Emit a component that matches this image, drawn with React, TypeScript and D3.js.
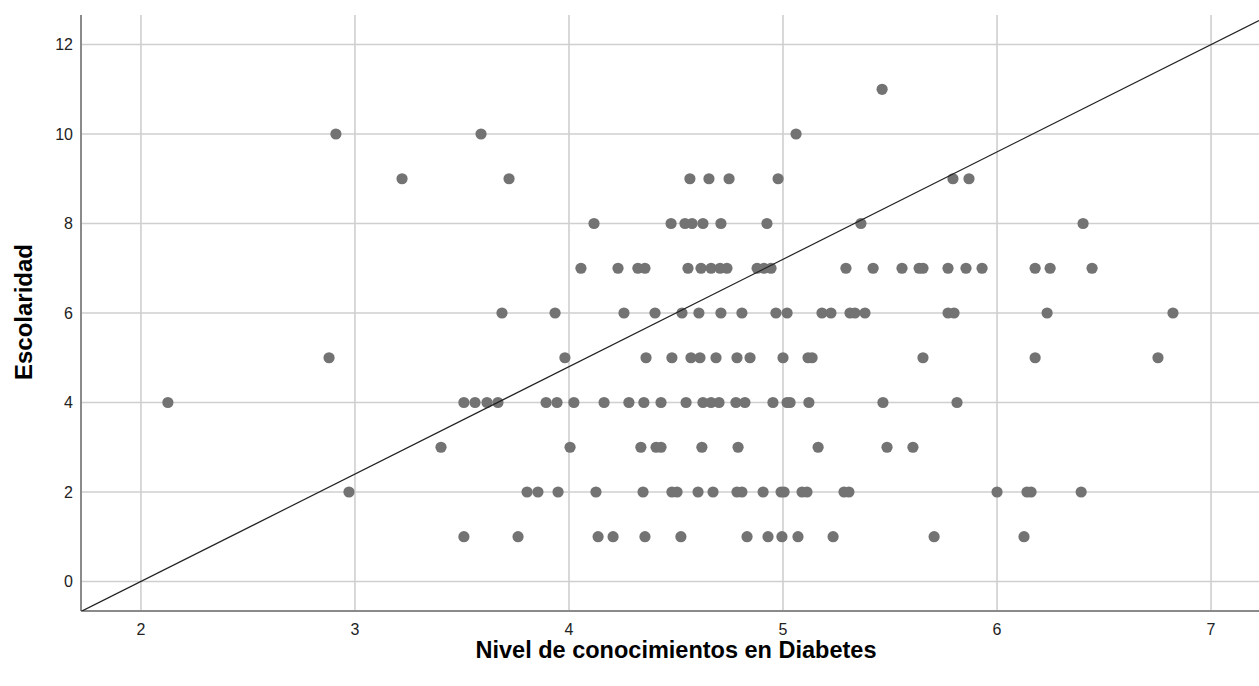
import React from "react";
import * as d3 from "d3";

// Escolaridad levels and the "Nivel de conocimientos" values of the points on each level
const level1 = [3.509, 3.762, 4.136, 4.206, 4.355, 4.523, 4.832, 4.93, 4.995, 5.07, 5.234, 5.706, 6.126];
const level2 = [2.972, 3.804, 3.855, 3.949, 4.126, 4.346, 4.481, 4.505, 4.603, 4.673, 4.785, 4.808, 4.907, 4.991, 5.005, 5.089, 5.112, 5.285, 5.308, 6.0, 6.14, 6.159, 6.393];
const level3 = [3.402, 4.005, 4.336, 4.407, 4.43, 4.621, 4.79, 5.164, 5.486, 5.607];
const level4 = [2.126, 3.509, 3.561, 3.617, 3.668, 3.893, 3.944, 4.023, 4.164, 4.28, 4.35, 4.43, 4.547, 4.626, 4.664, 4.701, 4.78, 4.822, 4.953, 5.019, 5.033, 5.121, 5.467, 5.813];
const level5 = [2.879, 3.981, 4.36, 4.481, 4.57, 4.612, 4.687, 4.785, 4.846, 5.0, 5.117, 5.136, 5.654, 6.178, 6.752];
const level6 = [3.687, 3.935, 4.257, 4.402, 4.528, 4.607, 4.71, 4.808, 4.967, 5.019, 5.182, 5.224, 5.313, 5.336, 5.383, 5.771, 5.799, 6.234, 6.822];
const level7 = [4.056, 4.229, 4.322, 4.355, 4.556, 4.617, 4.664, 4.706, 4.738, 4.879, 4.911, 4.944, 5.294, 5.421, 5.556, 5.636, 5.654, 5.771, 5.855, 5.93, 6.178, 6.248, 6.444];
const level8 = [4.117, 4.477, 4.542, 4.575, 4.626, 4.71, 4.925, 5.364, 6.402];
const level9 = [3.22, 3.72, 4.565, 4.654, 4.748, 4.977, 5.794, 5.869];
const level10 = [2.911, 3.589, 5.061];
const level11 = [5.463];

const levels = [1, 2, 3, 4, 5, 6, 7, 8, 9, 10, 11];
const levelValues = [level1, level2, level3, level4, level5, level6, level7, level8, level9, level10, level11];

const xTicks = [2, 3, 4, 5, 6, 7];
const yTicks = [0, 2, 4, 6, 8, 10, 12];

// reference line: y = slope * (x - x0)
const lineSlope = 2.4;
const lineX0 = 2;

const xDomain: [number, number] = [1.72, 7.224];
const yDomain: [number, number] = [-0.66, 12.66];

export default function App() {
  const W = 1259;
  const H = 686;
  const left = 81;
  const right = 1259;
  const top = 15;
  const bottom = 611;

  const x = d3.scaleLinear().domain(xDomain).range([left, right]);
  const y = d3.scaleLinear().domain(yDomain).range([bottom, top]);

  const points: { xv: number; yv: number }[] = [];
  levels.forEach((lv, i) => levelValues[i].forEach((xv) => points.push({ xv, yv: lv })));

  const lineData: [number, number][] = xDomain.map((xv) => [xv, lineSlope * (xv - lineX0)]);
  const linePath = d3
    .line<[number, number]>()
    .x((d) => x(d[0]))
    .y((d) => y(d[1]))(lineData) as string;

  const font = "'Liberation Sans', Arial, sans-serif";
  const gridColor = "#cfcfcf";
  const tickSize = 16;

  return (
    <div style={{ position: "absolute", left: 0, top: 0 }}>
      <svg width={W} height={H} style={{ display: "block", background: "#fff" }}>
        <defs>
          <clipPath id="plotclip">
            <rect x={left} y={top} width={right - left} height={bottom - top} />
          </clipPath>
        </defs>
        {yTicks.map((t) => (
          <line key={"gy" + t} x1={left} x2={right} y1={y(t)} y2={y(t)} stroke={gridColor} strokeWidth={1.6} />
        ))}
        {xTicks.map((t) => (
          <line key={"gx" + t} x1={x(t)} x2={x(t)} y1={top} y2={bottom} stroke={gridColor} strokeWidth={1.6} />
        ))}
        <line x1={left} x2={left} y1={top} y2={bottom} stroke="#8a8a8a" strokeWidth={2} />
        <line x1={left} x2={right} y1={bottom} y2={bottom} stroke="#8a8a8a" strokeWidth={2} />
        <g clipPath="url(#plotclip)">
          {points.map((p, i) => (
            <circle key={i} cx={x(p.xv)} cy={y(p.yv)} r={5.6} fill="#737373" />
          ))}
          <path d={linePath} stroke="#222" strokeWidth={1.2} fill="none" />
        </g>
        {yTicks.map((t) => (
          <text key={"ty" + t} x={73} y={y(t) + 5.7} textAnchor="end" fontFamily={font} fontSize={tickSize} fill="#222">
            {t}
          </text>
        ))}
        {xTicks.map((t) => (
          <text key={"tx" + t} x={x(t)} y={635} textAnchor="middle" fontFamily={font} fontSize={tickSize} fill="#222">
            {t}
          </text>
        ))}
        <text
          transform={`translate(32, 312) rotate(-90)`}
          textAnchor="middle"
          fontFamily={font}
          fontSize={24}
          fontWeight="bold"
          fill="#000"
        >
          Escolaridad
        </text>
        <text x={676} y={658} textAnchor="middle" fontFamily={font} fontSize={23.5} fontWeight="bold" fill="#000">
          Nivel de conocimientos en Diabetes
        </text>
      </svg>
    </div>
  );
}
